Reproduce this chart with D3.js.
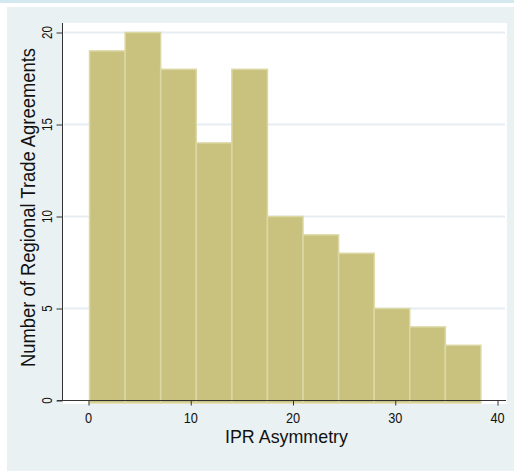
<!DOCTYPE html>
<html>
<head>
<meta charset="utf-8">
<script src="https://cdn.jsdelivr.net/npm/d3@7/dist/d3.min.js"></script>
<style>
  html, body { margin: 0; padding: 0; background: #ffffff; }
  svg { display: block; }
  text { font-family: "Liberation Sans", Arial, sans-serif; fill: #111; }
</style>
</head>
<body>
<svg id="chart" width="514" height="471"></svg>
<script>
// Histogram bins: edges of each bar on the IPR asymmetry scale
const binEdges = [0.1, 3.58, 7.06, 10.54, 14.02, 17.5, 20.98, 24.46, 27.94, 31.42, 34.9, 38.38];
// Number of agreements falling in each bin
const counts = [19, 20, 18, 14, 18, 10, 9, 8, 5, 4, 3];
const xTicks = [0, 10, 20, 30, 40];
const yTicks = [0, 5, 10, 15, 20];
const xTitle = "IPR Asymmetry";
const yTitle = "Number of Regional Trade Agreements";

const bins = counts.map((c, i) => ({ x0: binEdges[i], x1: binEdges[i + 1], count: c }));

const svg = d3.select("#chart");
const W = 514, H = 471;

// Outer graph region
svg.append("rect").attr("x", 0).attr("y", 0).attr("width", W).attr("height", 3).attr("fill", "#d3e8ef");
svg.append("rect").attr("x", 7).attr("y", 7).attr("width", W - 7).attr("height", H - 7).attr("fill", "#eaf1f3");

// Plot region
const plot = { left: 63, top: 23, right: 507, bottom: 404 };
svg.append("rect")
  .attr("x", plot.left).attr("y", plot.top)
  .attr("width", plot.right - plot.left).attr("height", plot.bottom - plot.top)
  .attr("fill", "#ffffff");

const x = d3.scaleLinear().domain([0, 40]).range([88.5, 497.5]);
const y = d3.scaleLinear().domain([0, 20]).range([400.5, 32.5]);

// Horizontal grid lines
svg.append("g").selectAll("line")
  .data(yTicks.filter(d => d > 0))
  .join("line")
  .attr("x1", plot.left + 1).attr("x2", plot.right - 2)
  .attr("y1", d => y(d)).attr("y2", d => y(d))
  .attr("stroke", "#e6eef3").attr("stroke-width", 2);

// Bars
svg.append("g").selectAll("rect")
  .data(bins)
  .join("rect")
  .attr("x", d => x(d.x0))
  .attr("y", d => y(d.count))
  .attr("width", d => x(d.x1) - x(d.x0))
  .attr("height", d => y(0) - y(d.count) + 2.5)
  .attr("fill", "#c9c27e")
  .attr("stroke", "#dcd8a6")
  .attr("stroke-width", 1.5);

// Y axis
const yAxis = svg.append("g").attr("transform", `translate(${plot.left - 0.5},0)`)
  .call(d3.axisLeft(y).tickValues(yTicks).tickSize(6).tickFormat(""));
yAxis.select(".domain").attr("d", `M0,${plot.top}V${y(0) + 0.5}`).attr("stroke", "#333");
yAxis.selectAll(".tick line").attr("stroke", "#333");

// X axis
const xAxis = svg.append("g").attr("transform", `translate(0,${y(0)})`)
  .call(d3.axisBottom(x).tickValues(xTicks).tickSize(5).tickFormat(""));
xAxis.select(".domain").attr("d", `M${plot.left - 6},0H${plot.right - 1}`).attr("stroke", "#333");
xAxis.selectAll(".tick line").attr("stroke", "#333");

// Narrow-looking text helper
function label(txt, tx, ty, rot, size, sx, len) {
  const g = svg.append("g").attr("transform", `translate(${tx},${ty}) rotate(${rot}) scale(${sx},1)`);
  const t = g.append("text").attr("text-anchor", "middle").attr("font-size", size).text(txt);
  if (len) t.attr("textLength", len / sx).attr("lengthAdjust", "spacingAndGlyphs");
  return t;
}

// Tick labels
xTicks.forEach(v => label(String(v), x(v), 423, 0, 15, 0.85));
yTicks.forEach(v => label(String(v), 52, y(v), -90, 14, 0.82));

// Axis titles
label(xTitle, 286.5, 443, 0, 18.5, 1, 123);
label(yTitle, 35, 207.5, -90, 20.5, 1, 319);
</script>
</body>
</html>
